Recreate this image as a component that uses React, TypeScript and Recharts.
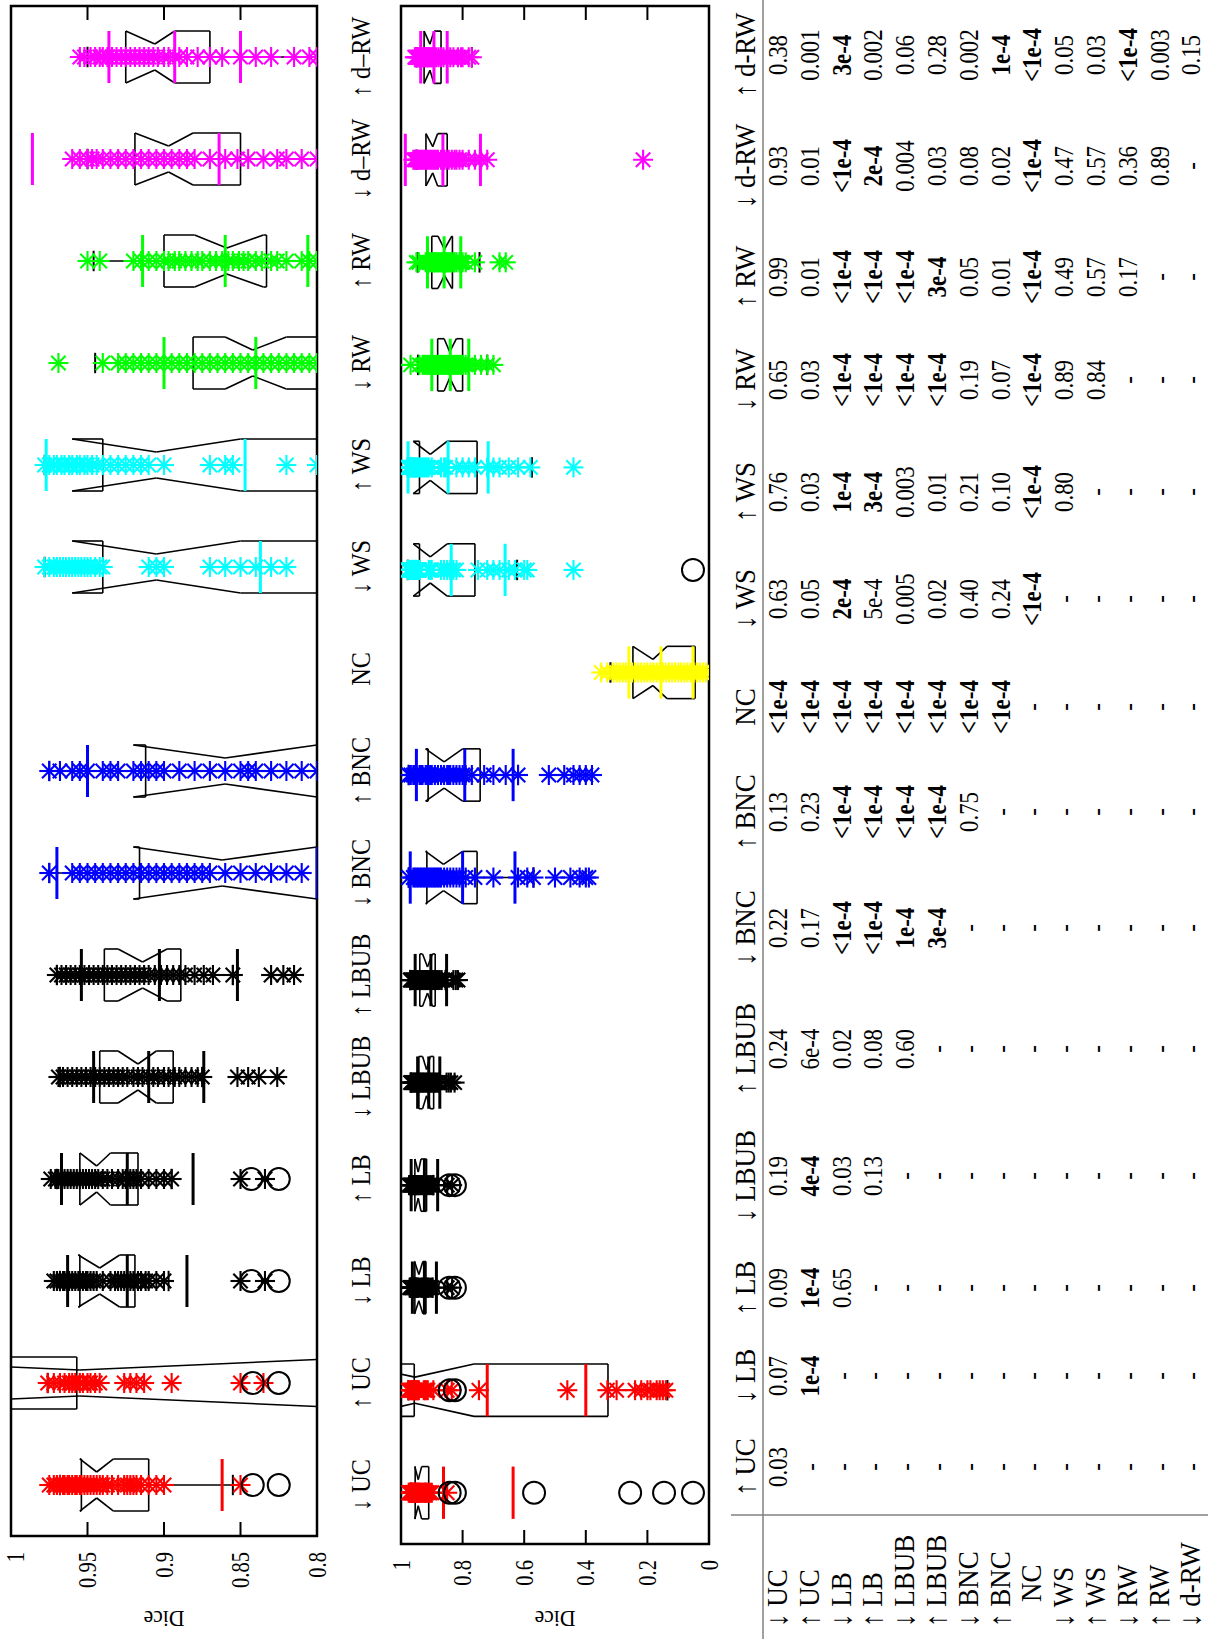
import React from 'react';
import { ComposedChart, XAxis, YAxis, Scatter, ReferenceLine, ReferenceArea, Label } from 'recharts';

const FONT = '"Liberation Serif", "DejaVu Serif", serif';

// ---------- categories ----------
const categories = ['↓ UC', '↑ UC', '↓ LB', '↑ LB', '↓ LBUB', '↑ LBUB', '↓ BNC', '↑ BNC', 'NC', '↓ WS', '↑ WS', '↓ RW', '↑ RW', '↓ d–RW', '↑ d–RW'];
const catColors = ['#ff0000', '#ff0000', '#000000', '#000000', '#000000', '#000000', '#0000ff', '#0000ff', '#ffff00', '#00ffff', '#00ffff', '#00ff00', '#00ff00', '#ff00ff', '#ff00ff'];

// ---------- notched box statistics ----------
const boxQ1 = [0.910, 0.328, 0.919, 0.917, 0.894, 0.889, 0.753, 0.743, 0.045, 0.760, 0.753, 0.800, 0.833, 0.850, 0.870];
const boxNotchLo = [0.933, 0.763, 0.929, 0.935, 0.905, 0.898, 0.800, 0.800, 0.136, 0.850, 0.850, 0.820, 0.835, 0.881, 0.893];
const boxMedian = [0.944, 0.955, 0.942, 0.944, 0.917, 0.914, 0.862, 0.860, 0.182, 0.905, 0.905, 0.842, 0.859, 0.897, 0.906];
const boxNotchHi = [0.955, 1.147, 0.956, 0.955, 0.930, 0.930, 0.920, 0.920, 0.247, 0.960, 0.960, 0.860, 0.880, 0.919, 0.925];
const boxQ3 = [0.954, 0.957, 0.955, 0.955, 0.942, 0.939, 0.916, 0.912, 0.247, 0.940, 0.940, 0.881, 0.900, 0.919, 0.925];
const whiskerLo = [0.855, 0.135, 0.897, 0.895, 0.875, 0.855, 0.570, 0.620, 0.000, 0.623, 0.575, 0.720, 0.745, 0.744, 0.770];
const whiskerHi = [0.968, 0.976, 0.968, 0.970, 0.968, 0.970, 0.975, 0.975, 0.320, 0.978, 0.978, 0.945, 0.946, 0.950, 0.950];

// ---------- mean and std (lines at mean-std, mean, mean+std) ----------
const meanVals = [0.862, 0.720, 0.924, 0.924, 0.910, 0.903, 0.800, 0.793, 0.156, 0.837, 0.847, 0.840, 0.860, 0.864, 0.893];
const stdVals = [0.226, 0.320, 0.039, 0.043, 0.036, 0.051, 0.170, 0.157, 0.104, 0.175, 0.130, 0.060, 0.054, 0.122, 0.043];

// ---------- circled cases ----------
const circDUC = [0.842, 0.825, 0.568, 0.256, 0.146, 0.052];
const circUUC = [0.842, 0.825];
const circDLB = [0.843, 0.825];
const circULB = [0.843, 0.825];
const circDWS = [0.052];
const circleSets = [circDUC, circUUC, circDLB, circULB, [], [], [], [], [], circDWS, [], [], [], [], []];

// ---------- individual Dice values (asterisks) ----------
const ptsDUC = [0.975, 0.972, 0.970, 0.968, 0.966, 0.965, 0.963, 0.962, 0.960, 0.958, 0.957, 0.955, 0.954, 0.952, 0.950, 0.948, 0.946, 0.944, 0.942, 0.940, 0.937, 0.934, 0.930, 0.926, 0.924, 0.922, 0.920, 0.918, 0.915, 0.910, 0.905, 0.900, 0.850];
const ptsUUC = [0.976, 0.972, 0.968, 0.965, 0.962, 0.960, 0.958, 0.955, 0.953, 0.950, 0.948, 0.945, 0.942, 0.926, 0.922, 0.918, 0.913, 0.895, 0.850, 0.835, 0.747, 0.460, 0.330, 0.300, 0.240, 0.220, 0.200, 0.190, 0.170, 0.160, 0.150, 0.140];
const ptsDLB = [0.972, 0.970, 0.968, 0.966, 0.965, 0.963, 0.962, 0.960, 0.958, 0.956, 0.955, 0.953, 0.951, 0.950, 0.948, 0.946, 0.944, 0.940, 0.935, 0.932, 0.930, 0.928, 0.926, 0.924, 0.922, 0.920, 0.917, 0.915, 0.912, 0.910, 0.905, 0.900, 0.850, 0.834];
const ptsULB = [0.974, 0.971, 0.969, 0.967, 0.965, 0.963, 0.961, 0.959, 0.957, 0.955, 0.953, 0.951, 0.949, 0.947, 0.945, 0.943, 0.940, 0.937, 0.934, 0.930, 0.927, 0.925, 0.922, 0.920, 0.918, 0.915, 0.910, 0.905, 0.900, 0.895, 0.850, 0.834];
const ptsDLBUB = [0.969, 0.966, 0.963, 0.960, 0.957, 0.954, 0.951, 0.948, 0.945, 0.942, 0.939, 0.936, 0.933, 0.930, 0.927, 0.924, 0.920, 0.917, 0.914, 0.910, 0.907, 0.904, 0.900, 0.897, 0.893, 0.890, 0.886, 0.882, 0.878, 0.875, 0.852, 0.845, 0.838, 0.826];
const ptsULBUB = [0.970, 0.967, 0.964, 0.961, 0.958, 0.955, 0.952, 0.949, 0.946, 0.943, 0.940, 0.937, 0.934, 0.931, 0.928, 0.925, 0.922, 0.919, 0.916, 0.913, 0.910, 0.906, 0.902, 0.898, 0.894, 0.890, 0.886, 0.880, 0.874, 0.868, 0.855, 0.830, 0.822, 0.815];
const ptsDBNC = [0.975, 0.960, 0.955, 0.950, 0.945, 0.940, 0.935, 0.930, 0.925, 0.920, 0.915, 0.910, 0.905, 0.900, 0.895, 0.890, 0.885, 0.880, 0.875, 0.870, 0.860, 0.850, 0.840, 0.830, 0.820, 0.810, 0.790, 0.760, 0.700, 0.620, 0.590, 0.570, 0.500, 0.450, 0.420, 0.400, 0.390];
const ptsUBNC = [0.975, 0.968, 0.960, 0.955, 0.950, 0.940, 0.935, 0.930, 0.920, 0.915, 0.910, 0.905, 0.900, 0.890, 0.880, 0.870, 0.860, 0.850, 0.845, 0.840, 0.830, 0.820, 0.810, 0.800, 0.790, 0.770, 0.730, 0.700, 0.660, 0.620, 0.520, 0.470, 0.440, 0.420, 0.400, 0.380];
const ptsNC = [0.350, 0.330, 0.310, 0.300, 0.290, 0.280, 0.270, 0.260, 0.250, 0.240, 0.230, 0.220, 0.210, 0.200, 0.190, 0.180, 0.170, 0.160, 0.150, 0.140, 0.130, 0.120, 0.110, 0.100, 0.090, 0.080, 0.070, 0.060, 0.050, 0.040, 0.030, 0.020, 0.010, -0.020];
const ptsDWS = [0.978, 0.975, 0.972, 0.970, 0.968, 0.966, 0.964, 0.962, 0.960, 0.958, 0.956, 0.954, 0.952, 0.950, 0.948, 0.945, 0.942, 0.940, 0.910, 0.905, 0.900, 0.870, 0.860, 0.850, 0.840, 0.830, 0.820, 0.750, 0.720, 0.700, 0.680, 0.650, 0.630, 0.600, 0.590, 0.440];
const ptsUWS = [0.978, 0.975, 0.972, 0.970, 0.967, 0.965, 0.962, 0.960, 0.957, 0.955, 0.952, 0.950, 0.947, 0.944, 0.940, 0.935, 0.930, 0.925, 0.920, 0.915, 0.910, 0.900, 0.870, 0.860, 0.855, 0.820, 0.800, 0.780, 0.760, 0.720, 0.700, 0.680, 0.650, 0.620, 0.580, 0.440];
const ptsDRW = [0.969, 0.940, 0.930, 0.925, 0.920, 0.915, 0.910, 0.905, 0.900, 0.895, 0.890, 0.885, 0.880, 0.875, 0.870, 0.865, 0.860, 0.855, 0.850, 0.845, 0.840, 0.835, 0.830, 0.825, 0.820, 0.815, 0.810, 0.805, 0.800, 0.790, 0.780, 0.760, 0.740, 0.720, 0.700];
const ptsURW = [0.950, 0.942, 0.920, 0.915, 0.910, 0.905, 0.900, 0.897, 0.893, 0.890, 0.886, 0.882, 0.878, 0.875, 0.870, 0.866, 0.862, 0.858, 0.855, 0.851, 0.848, 0.845, 0.840, 0.836, 0.830, 0.826, 0.820, 0.810, 0.805, 0.800, 0.790, 0.760, 0.680, 0.660];
const ptsDdRW = [0.960, 0.955, 0.950, 0.947, 0.944, 0.940, 0.935, 0.930, 0.925, 0.920, 0.915, 0.910, 0.905, 0.900, 0.895, 0.890, 0.885, 0.880, 0.870, 0.860, 0.852, 0.845, 0.835, 0.826, 0.820, 0.810, 0.800, 0.780, 0.760, 0.740, 0.720, 0.214];
const ptsUdRW = [0.955, 0.952, 0.948, 0.945, 0.942, 0.940, 0.937, 0.934, 0.931, 0.928, 0.925, 0.922, 0.919, 0.916, 0.913, 0.910, 0.907, 0.904, 0.900, 0.897, 0.893, 0.890, 0.885, 0.878, 0.870, 0.862, 0.850, 0.840, 0.830, 0.815, 0.805, 0.800, 0.780, 0.770];
const pointSets = [ptsDUC, ptsUUC, ptsDLB, ptsULB, ptsDLBUB, ptsULBUB, ptsDBNC, ptsUBNC, ptsNC, ptsDWS, ptsUWS, ptsDRW, ptsURW, ptsDdRW, ptsUdRW];

// ---------- p-value table ----------
const tableRowLabels = ['↓ UC', '↑ UC', '↓ LB', '↑ LB', '↓ LBUB', '↑ LBUB', '↓ BNC', '↑ BNC', 'NC', '↓ WS', '↑ WS', '↓ RW', '↑ RW', '↓ d-RW'];
const tableColLabels = ['↑ UC', '↓ LB', '↑ LB', '↓ LBUB', '↑ LBUB', '↓ BNC', '↑ BNC', 'NC', '↓ WS', '↑ WS', '↓ RW', '↑ RW', '↓ d-RW', '↑ d-RW'];
const colUpUC = ['0.03'];
const colDownLB = ['0.07', '1e-4'];
const colUpLB = ['0.09', '1e-4', '0.65'];
const colDownLBUB = ['0.19', '4e-4', '0.03', '0.13'];
const colUpLBUB = ['0.24', '6e-4', '0.02', '0.08', '0.60'];
const colDownBNC = ['0.22', '0.17', '<1e-4', '<1e-4', '1e-4', '3e-4'];
const colUpBNC = ['0.13', '0.23', '<1e-4', '<1e-4', '<1e-4', '<1e-4', '0.75'];
const colNC = ['<1e-4', '<1e-4', '<1e-4', '<1e-4', '<1e-4', '<1e-4', '<1e-4', '<1e-4'];
const colDownWS = ['0.63', '0.05', '2e-4', '5e-4', '0.005', '0.02', '0.40', '0.24', '<1e-4'];
const colUpWS = ['0.76', '0.03', '1e-4', '3e-4', '0.003', '0.01', '0.21', '0.10', '<1e-4', '0.80'];
const colDownRW = ['0.65', '0.03', '<1e-4', '<1e-4', '<1e-4', '<1e-4', '0.19', '0.07', '<1e-4', '0.89', '0.84'];
const colUpRW = ['0.99', '0.01', '<1e-4', '<1e-4', '<1e-4', '3e-4', '0.05', '0.01', '<1e-4', '0.49', '0.57', '0.17'];
const colDownDRW = ['0.93', '0.01', '<1e-4', '2e-4', '0.004', '0.03', '0.08', '0.02', '<1e-4', '0.47', '0.57', '0.36', '0.89'];
const colUpDRW = ['0.38', '0.001', '3e-4', '0.002', '0.06', '0.28', '0.002', '1e-4', '<1e-4', '0.05', '0.03', '<1e-4', '0.003', '0.15'];
const tableColumns = [colUpUC, colDownLB, colUpLB, colDownLBUB, colUpLBUB, colDownBNC, colUpBNC, colNC, colDownWS, colUpWS, colDownRW, colUpRW, colDownDRW, colUpDRW];

// ---------- derived series ----------
const starData = pointSets.flatMap((arr, i) => arr.map((v) => ({ x: i, y: v, color: catColors[i] })));
const circleData = circleSets.flatMap((arr, i) => arr.map((v) => ({ x: i, y: v })));
const catTicks = categories.map((_, i) => i);

const HALF_W = 0.255;
const CAP_W = 0.1;
type Seg = { a: [number, number]; b: [number, number]; stroke: string; w: number };
const boxSegs: Seg[] = [];
const statSegs: Seg[] = [];
categories.forEach((_, i) => {
  const poly: [number, number][] = [
    [i - HALF_W, boxQ1[i]], [i - HALF_W, boxNotchLo[i]], [i - HALF_W / 2, boxMedian[i]], [i - HALF_W, boxNotchHi[i]], [i - HALF_W, boxQ3[i]],
    [i + HALF_W, boxQ3[i]], [i + HALF_W, boxNotchHi[i]], [i + HALF_W / 2, boxMedian[i]], [i + HALF_W, boxNotchLo[i]], [i + HALF_W, boxQ1[i]],
    [i - HALF_W, boxQ1[i]],
  ];
  for (let k = 0; k < poly.length - 1; k++) boxSegs.push({ a: poly[k], b: poly[k + 1], stroke: '#000', w: 1.6 });
  boxSegs.push({ a: [i, boxQ3[i]], b: [i, whiskerHi[i]], stroke: '#000', w: 1.4 });
  boxSegs.push({ a: [i, boxQ1[i]], b: [i, whiskerLo[i]], stroke: '#000', w: 1.4 });
  boxSegs.push({ a: [i - CAP_W, whiskerHi[i]], b: [i + CAP_W, whiskerHi[i]], stroke: '#000', w: 2 });
  boxSegs.push({ a: [i - CAP_W, whiskerLo[i]], b: [i + CAP_W, whiskerLo[i]], stroke: '#000', w: 2 });
  [meanVals[i] - stdVals[i], meanVals[i], meanVals[i] + stdVals[i]].forEach((v) => {
    statSegs.push({ a: [i - HALF_W, v], b: [i + HALF_W, v], stroke: catColors[i], w: 3 });
  });
});

// ---------- shapes ----------
const StarShape = (props: any) => {
  const { cx, cy, payload } = props;
  if (cx == null || cy == null) return <g />;
  const r = 10;
  const d = 7.2;
  const c = payload.color;
  return (
    <g stroke={c} strokeWidth={2.1}>
      <line x1={cx - r} y1={cy} x2={cx + r} y2={cy} />
      <line x1={cx} y1={cy - r} x2={cx} y2={cy + r} />
      <line x1={cx - d} y1={cy - d} x2={cx + d} y2={cy + d} />
      <line x1={cx - d} y1={cy + d} x2={cx + d} y2={cy - d} />
    </g>
  );
};

const CircleShape = (props: any) => {
  const { cx, cy } = props;
  if (cx == null || cy == null) return <g />;
  return <circle cx={cx} cy={cy} r={11} fill="none" stroke="#000" strokeWidth={2} />;
};

const SX = 0.82;

const LeftTick = (props: any) => {
  const { x, y, payload } = props;
  const baseline = Math.max(y + 8.5, 24);
  return (
    <g>
      <line x1={x} y1={y} x2={x + 14} y2={y} stroke="#000" strokeWidth={2} />
      <text transform={`translate(${x - 16},${baseline}) scale(${SX},1)`} textAnchor="end" fontSize={25} fontFamily={FONT} fill="#000">
        {String(payload.value)}
      </text>
    </g>
  );
};

const RightTick = (props: any) => {
  const { x, y } = props;
  return <line x1={x} y1={y} x2={x - 14} y2={y} stroke="#000" strokeWidth={2} />;
};

const CatTick = (props: any) => {
  const { x, y, payload } = props;
  return (
    <text transform={`translate(${x},${y + 53}) scale(0.9,1)`} textAnchor="middle" fontSize={27} fontFamily={FONT} fill="#000">
      {categories[payload.value]}
    </text>
  );
};

const diceLabel = (props: any) => {
  const vb = props.viewBox || { x: 0, y: 0, width: 0, height: 0 };
  const cx = vb.x + 20;
  const cy = vb.y + vb.height / 2;
  return (
    <text transform={`translate(${cx},${cy}) rotate(-90) scale(0.9,1)`} textAnchor="middle" dominantBaseline="central" fontSize={24} fontFamily={FONT} fill="#000">
      Dice
    </text>
  );
};

type PanelProps = {
  yDomain: [number, number];
  yTicks: number[];
  height: number;
  plotLeft: number;
  top: number;
  bottom: number;
  showCategories: boolean;
};

function Panel({ yDomain, yTicks, height, plotLeft, top, bottom, showCategories }: PanelProps) {
  return (
    <ComposedChart width={1639} height={height} margin={{ top, right: 0, bottom, left: 0 }}>
      <XAxis
        xAxisId="x"
        type="number"
        dataKey="x"
        domain={[-0.5, 14.5]}
        ticks={catTicks}
        interval={0}
        allowDataOverflow
        hide={!showCategories}
        height={showCategories ? 70 : 0}
        axisLine={false}
        tickLine={false}
        tickSize={0}
        tickMargin={0}
        tick={showCategories ? (p: any) => <CatTick {...p} /> : false}
      />
      <YAxis
        yAxisId="l"
        type="number"
        dataKey="y"
        domain={yDomain}
        ticks={yTicks}
        interval={0}
        allowDataOverflow
        width={plotLeft}
        axisLine={false}
        tickLine={false}
        tickSize={0}
        tickMargin={0}
        tick={(p: any) => <LeftTick {...p} />}
      >
        <Label content={diceLabel} />
      </YAxis>
      <YAxis
        yAxisId="r"
        orientation="right"
        type="number"
        dataKey="y"
        domain={yDomain}
        ticks={yTicks}
        interval={0}
        allowDataOverflow
        width={6}
        axisLine={false}
        tickLine={false}
        tickSize={0}
        tickMargin={0}
        tick={(p: any) => <RightTick {...p} />}
      />
      {boxSegs.map((s, k) => (
        <ReferenceLine
          key={`b${k}`}
          xAxisId="x"
          yAxisId="l"
          segment={[{ x: s.a[0], y: s.a[1] }, { x: s.b[0], y: s.b[1] }]}
          stroke={s.stroke}
          strokeWidth={s.w}
          ifOverflow="hidden"
        />
      ))}
      <Scatter xAxisId="x" yAxisId="l" data={starData} dataKey="y" shape={StarShape} isAnimationActive={false} />
      <Scatter xAxisId="x" yAxisId="l" data={circleData} dataKey="y" shape={CircleShape} isAnimationActive={false} />
      {statSegs.map((s, k) => (
        <ReferenceLine
          key={`s${k}`}
          xAxisId="x"
          yAxisId="l"
          segment={[{ x: s.a[0], y: s.a[1] }, { x: s.b[0], y: s.b[1] }]}
          stroke={s.stroke}
          strokeWidth={s.w}
          ifOverflow="hidden"
        />
      ))}
      <ReferenceArea
        xAxisId="x"
        yAxisId="l"
        x1={-0.5}
        x2={14.5}
        y1={yDomain[0]}
        y2={yDomain[1]}
        fill="none"
        fillOpacity={0}
        stroke="#000"
        strokeWidth={2.5}
        ifOverflow="visible"
      />
    </ComposedChart>
  );
}

// table layout
const colCenters = [172, 263, 351, 463, 590, 711, 827, 932, 1040, 1147, 1259, 1362, 1473, 1584];
const headerBaseline = 755;
const firstRowBaseline = 787;
const rowStep = 31.8;
const TFS = 28;
const LFS = 30;
const LSX = 0.9;

const isBold = (s: string) => s.startsWith('<') || parseFloat(s) <= 4e-4;

function PTable() {
  const items: React.ReactNode[] = [];
  tableColLabels.forEach((lab, c) => {
    items.push(
      <text key={`h${c}`} transform={`translate(${colCenters[c]},${headerBaseline}) scale(${LSX},1)`} textAnchor="middle" fontSize={LFS} fontFamily={FONT}>
        {lab}
      </text>
    );
  });
  tableRowLabels.forEach((lab, r) => {
    const y = firstRowBaseline + rowStep * r;
    const x = lab.startsWith('↓') || lab.startsWith('↑') ? 12 : 37;
    items.push(
      <text key={`r${r}`} transform={`translate(${x},${y}) scale(${LSX},1)`} textAnchor="start" fontSize={LFS} fontFamily={FONT}>
        {lab}
      </text>
    );
    tableColumns.forEach((col, c) => {
      const val = r < col.length ? col[r] : '-';
      items.push(
        <text
          key={`c${r}_${c}`}
          transform={`translate(${colCenters[c]},${y}) scale(${SX},1)`}
          textAnchor="middle"
          fontSize={TFS}
          fontFamily={FONT}
          fontWeight={val !== '-' && isBold(val) ? 700 : 400}
        >
          {val}
        </text>
      );
    });
  });
  return (
    <svg width={1639} height={1208} style={{ position: 'absolute', left: 0, top: 0 }}>
      <line x1={124} y1={731} x2={124} y2={1208} stroke="#808080" strokeWidth={1.5} />
      <line x1={0} y1={763} x2={1639} y2={763} stroke="#808080" strokeWidth={1.5} />
      <g fill="#000">{items}</g>
    </svg>
  );
}

export default function App() {
  return (
    <div style={{ position: 'absolute', left: 0, top: 0, width: 1208, height: 1639, background: '#fff', overflow: 'hidden' }}>
      <style>{'.panelwrap svg { overflow: visible; }'}</style>
      <div
        style={{
          position: 'absolute',
          left: 0,
          top: 0,
          width: 1639,
          height: 1208,
          transformOrigin: '0 0',
          transform: 'translate(0px, 1639px) rotate(-90deg)',
          fontFamily: FONT,
        }}
      >
        <PTable />
        <div className="panelwrap" style={{ position: 'absolute', left: 0, top: 0 }}>
          <Panel yDomain={[0.8, 1]} yTicks={[0.8, 0.85, 0.9, 0.95, 1]} height={387} plotLeft={103} top={11} bottom={0} showCategories={true} />
        </div>
        <div className="panelwrap" style={{ position: 'absolute', left: 0, top: 370 }}>
          <Panel yDomain={[0, 1]} yTicks={[0, 0.2, 0.4, 0.6, 0.8, 1]} height={360} plotLeft={95} top={31} bottom={21} showCategories={false} />
        </div>
      </div>
    </div>
  );
}
